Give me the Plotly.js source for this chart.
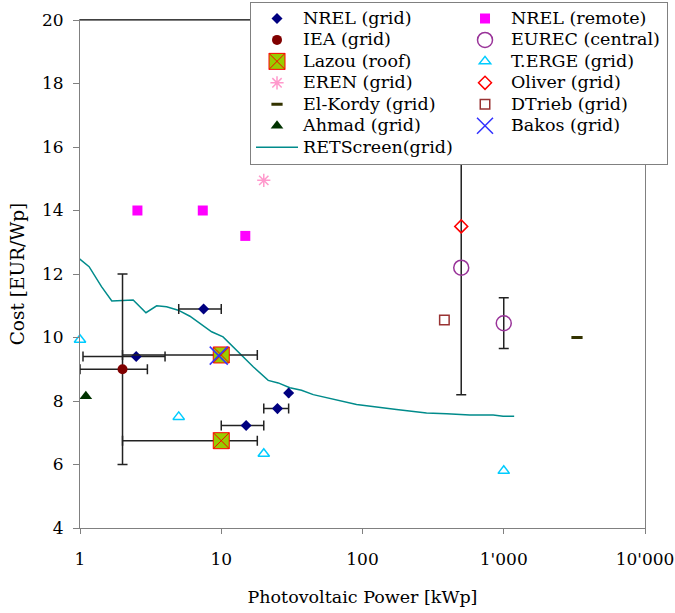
<!DOCTYPE html>
<html><head><meta charset="utf-8">
<script src="https://cdn.plot.ly/plotly-3.0.1.min.js"></script>
<style>html,body{margin:0;padding:0;background:#fff}#chart{width:675px;height:613px}</style>
</head><body><div id="chart"></div>
<script>
// ---- data ----
const nrelGridX = [2.5, 7.5, 15, 25, 30];
const nrelGridY = [9.4, 10.9, 7.23, 7.76, 8.25];
const nrelGridXMinus = [1.45, 2.5, 5, 5, null];
const nrelGridXPlus = [1.5, 2.5, 5, 5, null];

const nrelRemoteX = [2.55, 7.4, 14.8];
const nrelRemoteY = [14.0, 14.0, 13.2];

const ieaX = [2];
const ieaY = [9.0];
const ieaXMinus = [1];
const ieaXPlus = [1];
const ieaYErr = [3];

const eurecX = [500, 1000];
const eurecY = [12.2, 10.45];
const eurecYErr = [4.0, 0.8];

const lazouX = [10, 10];
const lazouY = [9.45, 6.75];
const lazouXErr = [8, 8];

const tergeX = [1, 5, 20, 1000];
const tergeY = [9.93, 7.5, 6.34, 5.8];

const erenX = [20];
const erenY = [14.95];

const oliverX = [500];
const oliverY = [13.5];

const elKordyX = [3300];
const elKordyY = [10.0];

const dtriebX = [380];
const dtriebY = [10.55];

const ahmadX = [1.1];
const ahmadY = [8.15];

const bakosX = [9.6];
const bakosY = [9.43];

const retX = [0.88, 0.97, 1.16, 1.42, 1.68, 2.38, 2.93, 3.49, 4.1, 4.96, 6.0, 7.07, 8.55, 10.3, 13.9, 16.9, 21.5, 25.3, 30.6, 37, 44.8, 58.8, 69, 90.8, 174, 284, 394, 575, 841, 990, 1185];
const retY = [12.93, 12.51, 12.23, 11.6, 11.15, 11.18, 10.78, 11.0, 10.97, 10.86, 10.67, 10.44, 10.18, 10.02, 9.44, 9.07, 8.65, 8.57, 8.42, 8.34, 8.2, 8.08, 8.02, 7.89, 7.73, 7.62, 7.6, 7.56, 7.56, 7.52, 7.52];

const xTickVals = [1, 10, 100, 1000, 10000];
const xTickText = ['1', '10', '100', "1'000", "10'000"];
const yTickVals = [4, 6, 8, 10, 12, 14, 16, 18, 20];

const names = ['NREL (grid)', 'NREL (remote)', 'IEA (grid)', 'EUREC (central)', 'Lazou (roof)', 'T.ERGE (grid)',
  'EREN (grid)', 'Oliver (grid)', 'El-Kordy (grid)', 'DTrieb (grid)', 'Ahmad (grid)', 'Bakos (grid)', 'RETScreen(grid)'];

// ---- drawing ----
const SERIF = 'DejaVu Serif';
const L = s => '<span style="font-size:17.5px">' + s + '</span>';
const errStyle = {color: '#222222', thickness: 1.5, width: 5};

const traces = [
  {x: retX, y: retY, mode: 'lines', name: L(names[12]), legendrank: 13,
   line: {color: '#008B8B', width: 1.5}},
  {x: nrelGridX, y: nrelGridY, mode: 'markers', name: L(names[0]), legendrank: 1, cliponaxis: false,
   marker: {symbol: 'diamond', size: 8.5, color: '#000080'},
   error_x: Object.assign({type: 'data', symmetric: false, array: nrelGridXPlus, arrayminus: nrelGridXMinus}, errStyle)},
  {x: nrelRemoteX, y: nrelRemoteY, mode: 'markers', name: L(names[1]), legendrank: 2, cliponaxis: false,
   marker: {symbol: 'square', size: 10, color: '#FF00FF'}},
  {x: ieaX, y: ieaY, mode: 'markers', name: L(names[2]), legendrank: 3, cliponaxis: false,
   marker: {symbol: 'circle', size: 10, color: '#800000'},
   error_x: Object.assign({type: 'data', symmetric: false, array: ieaXPlus, arrayminus: ieaXMinus}, errStyle),
   error_y: Object.assign({type: 'data', array: ieaYErr}, errStyle)},
  {x: eurecX, y: eurecY, mode: 'markers', name: L(names[3]), legendrank: 4, cliponaxis: false,
   marker: {symbol: 'circle-open', size: 15, color: '#993399', line: {width: 1.5}},
   error_y: Object.assign({type: 'data', array: eurecYErr}, errStyle)},
  {x: lazouX, y: lazouY, mode: 'markers', name: L(names[4]), legendrank: 5, cliponaxis: false,
   marker: {symbol: 'square-x', size: 16, color: '#99CC00', line: {color: '#FF0000', width: 1}},
   error_x: Object.assign({type: 'data', array: lazouXErr}, errStyle)},
  {x: tergeX, y: tergeY, mode: 'markers', name: L(names[5]), legendrank: 6, cliponaxis: false,
   marker: {symbol: 'triangle-up-open', size: 10, color: '#00CCFF', line: {width: 1.5}}},
  {x: erenX, y: erenY, mode: 'markers', name: L(names[6]), legendrank: 7, cliponaxis: false,
   marker: {symbol: 'asterisk-open', size: 11, color: '#FF99CC', line: {color: '#FF99CC', width: 1.5}}},
  {x: oliverX, y: oliverY, mode: 'markers', name: L(names[7]), legendrank: 8, cliponaxis: false,
   marker: {symbol: 'diamond-open', size: 10, color: '#FF0000', line: {width: 1.5}}},
  {x: elKordyX, y: elKordyY, mode: 'markers', name: L(names[8]), legendrank: 9, cliponaxis: false,
   marker: {symbol: 'line-ew-open', size: 8, color: '#333300', line: {color: '#333300', width: 3}}},
  {x: dtriebX, y: dtriebY, mode: 'markers', name: L(names[9]), legendrank: 10, cliponaxis: false,
   marker: {symbol: 'square-open', size: 9.5, color: '#993333', line: {width: 1.5}}},
  {x: ahmadX, y: ahmadY, mode: 'markers', name: L(names[10]), legendrank: 11, cliponaxis: false,
   marker: {symbol: 'triangle-up', size: 11, color: '#003300'}},
  {x: bakosX, y: bakosY, mode: 'markers', name: L(names[11]), legendrank: 12, cliponaxis: false,
   marker: {symbol: 'x-thin-open', size: 18, color: '#3333FF', line: {color: '#3333FF', width: 1.5}}}
];

const layout = {
  width: 675, height: 613,
  margin: {l: 80, r: 30, t: 20, b: 85, autoexpand: false},
  paper_bgcolor: '#ffffff', plot_bgcolor: '#ffffff',
  font: {family: SERIF, color: '#000000', size: 17},
  showlegend: true,
  xaxis: {
    type: 'log', range: [0, 4],
    tickmode: 'array', tickvals: xTickVals, ticktext: xTickText,
    ticks: 'outside', ticklen: 5, tickcolor: '#808080', tickwidth: 1,
    showline: true, linecolor: '#808080', linewidth: 1, mirror: true,
    showgrid: false, zeroline: false,
    tickfont: {size: 17, family: SERIF}, ticklabelstandoff: 11,
    title: {text: 'Photovoltaic Power [kWp]', font: {size: 17.5, family: SERIF}, standoff: 22}
  },
  yaxis: {
    range: [4, 20],
    tickmode: 'array', tickvals: yTickVals,
    ticks: 'outside', ticklen: 6, tickcolor: '#808080', tickwidth: 1,
    showline: true, linecolor: '#808080', linewidth: 1, mirror: true,
    showgrid: false, zeroline: false,
    tickfont: {size: 17, family: SERIF}, ticklabelstandoff: 6,
    title: {text: 'Cost [EUR/Wp]', font: {size: 18.5, family: SERIF}, standoff: 12}
  },
  shapes: [
    {type: 'line', xref: 'paper', yref: 'paper', x0: 0, x1: 1, y0: 1, y1: 1, line: {color: '#000000', width: 1}}
  ],
  legend: {
    orientation: 'h', x: 0.3009, xanchor: 'left', y: 1.036, yanchor: 'top',
    entrywidth: 151, entrywidthmode: 'pixels', itemwidth: 42,
    traceorder: 'normal',
    font: {size: 14.2, family: SERIF, color: '#000000'},
    bgcolor: '#ffffff', bordercolor: '#808080', borderwidth: 1
  },
  hovermode: false
};

Plotly.newPlot('chart', traces, layout, {staticPlot: true, displayModeBar: false});
</script></body></html>
